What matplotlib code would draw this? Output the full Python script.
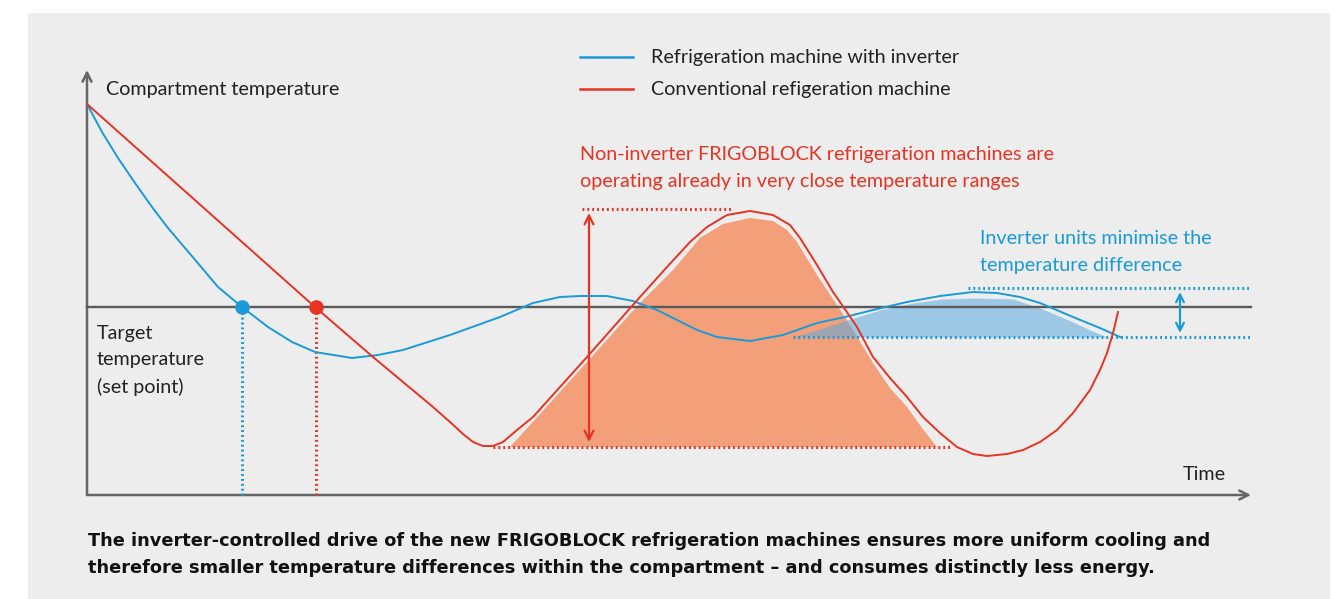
import matplotlib.pyplot as plt
from matplotlib.patches import Rectangle

# time / temperature (arbitrary units, origin at axes corner)
blue_t = [0, 15, 31, 48, 65, 81, 98, 115, 131, 155, 181, 205, 228, 265, 291, 316,
          363, 413, 446, 473, 493, 520, 546, 570, 590, 610, 630, 663, 696, 730,
          758, 786, 820, 853, 886, 910, 933, 953, 986, 1013, 1033]
blue_T = [391, 363, 337, 312, 288, 267, 247, 227, 208, 188, 168, 153, 143, 137, 140, 145,
          160, 178, 192, 198, 199, 199, 194, 185, 175, 165, 158, 154, 160, 172,
          178, 185, 193, 199, 203, 202, 198, 192, 178, 167, 158]

red_t = [0, 228, 286, 346, 363, 376, 386, 396, 406, 416, 430, 446, 500, 553, 580, 603,
         620, 640, 663, 686, 703, 713, 730, 746, 753, 770, 786, 803, 820, 836, 853,
         870, 886, 900, 920, 936, 953, 970, 986, 1003, 1013, 1020, 1026, 1031]
red_T = [391, 188, 138, 88, 73, 61, 53, 49, 49, 53, 65, 78, 138, 198, 228, 253,
         268, 280, 284, 280, 270, 257, 230, 203, 193, 168, 138, 117, 98, 78, 62,
         48, 41, 39, 41, 45, 53, 65, 82, 105, 125, 142, 162, 183]

orange_t = [423, 463, 500, 553, 586, 613, 636, 663, 686, 700, 710, 730, 750, 763,
            786, 803, 820, 835, 850]
orange_T = [48, 92, 133, 192, 225, 257, 271, 277, 274, 265, 253, 220, 190, 170,
            132, 107, 88, 67, 48]

fill_blue_t = [706, 733, 760, 793, 826, 856, 886, 926, 953, 986, 1003, 1020]
fill_blue_T = [158, 166, 175, 185, 192, 196, 197, 196, 187, 173, 165, 158]

target_T = 188
blue_hit_t = 155
red_hit_t = 229
red_band = (48, 286)
blue_band = (158, 207)
t_end = 1164

BLUE = '#1a9ad6'
RED = '#e63323'
ORANGE = '#f3a07a'
BG = '#ecedec'
GREY = '#666666'
TXT = '#222222'
FS = 14.2

plt.rcParams['font.family'] = ['Lato', 'DejaVu Sans']

fig = plt.figure(figsize=(13.42, 5.99), dpi=100)
fig.patch.set_facecolor('white')
ax = fig.add_axes([0, 0, 1, 1])
ax.set_xlim(-87, 1255)
ax.set_ylim(-104, 495)
ax.axis('off')
ax.add_patch(Rectangle((28 / 1342, 0), 1302 / 1342, 586 / 599,
                       transform=ax.transAxes, facecolor=BG, edgecolor='none', zorder=0))

# fills
ax.fill(orange_t, orange_T, color=ORANGE, lw=0, zorder=1)
ax.fill_between(fill_blue_t, fill_blue_T, blue_band[0], color='#5aa8e0', alpha=0.55, lw=0, zorder=2)

# axes with arrows
ax.annotate('', xy=(0, 425), xytext=(0, 0),
            arrowprops=dict(arrowstyle='->', color=GREY, lw=1.8, mutation_scale=16, shrinkA=0, shrinkB=0))
ax.annotate('', xy=(t_end, 0), xytext=(0, 0),
            arrowprops=dict(arrowstyle='->', color=GREY, lw=1.8, mutation_scale=16, shrinkA=0, shrinkB=0))
ax.plot([0, t_end], [target_T, target_T], color='#5a5a5a', lw=1.7, zorder=3)

dot = (0, (0.6, 1.0))
# red range guides
ax.plot([406, 863], [red_band[0]] * 2, color=RED, lw=2.2, ls=dot, zorder=3)
ax.plot([495, 646], [red_band[1]] * 2, color=RED, lw=2.2, ls=dot, zorder=3)
ax.annotate('', xy=(502, red_band[1] - 4), xytext=(502, red_band[0] + 5),
            arrowprops=dict(arrowstyle='<->', color=RED, lw=1.6, mutation_scale=16, shrinkA=0, shrinkB=0), zorder=4)
# blue range guides
ax.plot([706, t_end], [blue_band[0]] * 2, color=BLUE, lw=2.2, ls=dot, zorder=3)
ax.plot([881, t_end], [blue_band[1]] * 2, color=BLUE, lw=2.2, ls=dot, zorder=3)
ax.annotate('', xy=(1093, blue_band[1] - 4), xytext=(1093, blue_band[0] + 4),
            arrowprops=dict(arrowstyle='<->', color=BLUE, lw=1.6, mutation_scale=14, shrinkA=0, shrinkB=0), zorder=4)

# set point drop lines
ax.plot([blue_hit_t, blue_hit_t], [0, target_T], color=BLUE, lw=2.2, ls=dot, zorder=3)
ax.plot([red_hit_t, red_hit_t], [0, target_T], color=RED, lw=2.2, ls=dot, zorder=3)

# curves
ax.plot(blue_t, blue_T, color=BLUE, lw=1.4, zorder=5, solid_joinstyle='round')
ax.plot(red_t, red_T, color=RED, lw=1.4, zorder=6, solid_joinstyle='round')
ax.scatter([blue_hit_t], [target_T], s=110, color=BLUE, zorder=7, lw=0)
ax.scatter([red_hit_t], [target_T], s=110, color=RED, zorder=7, lw=0)

# legend
ax.plot([493, 546], [438, 438], color=BLUE, lw=1.8)
ax.plot([493, 546], [406, 406], color=RED, lw=1.8)
ax.text(564, 438, 'Refrigeration machine with inverter', color=TXT, fontsize=FS, va='center')
ax.text(564, 406, 'Conventional refigeration machine', color=TXT, fontsize=FS, va='center')

# labels
ax.text(19, 406, 'Compartment temperature', color=TXT, fontsize=FS, va='center')
ax.text(10, 170, 'Target\ntemperature\n(set point)', color=TXT, fontsize=FS, va='top', linespacing=1.64)
ax.text(1096, 21, 'Time', color=TXT, fontsize=FS, va='center')
ax.text(493, 349, 'Non-inverter FRIGOBLOCK refrigeration machines are\noperating already in very close temperature ranges',
        color=RED, fontsize=FS, va='top', linespacing=1.7)
ax.text(893, 265, 'Inverter units minimise the\ntemperature difference',
        color=BLUE, fontsize=FS, va='top', linespacing=1.7)

ax.text(1, -37, 'The inverter-controlled drive of the new FRIGOBLOCK refrigeration machines ensures more uniform cooling and\n'
        'therefore smaller temperature differences within the compartment \u2013 and consumes distinctly less energy.',
        color='#111111', fontsize=12.75, fontweight='bold', va='top', linespacing=1.62,
        family='DejaVu Sans')

fig.savefig('out.png', dpi=100)
